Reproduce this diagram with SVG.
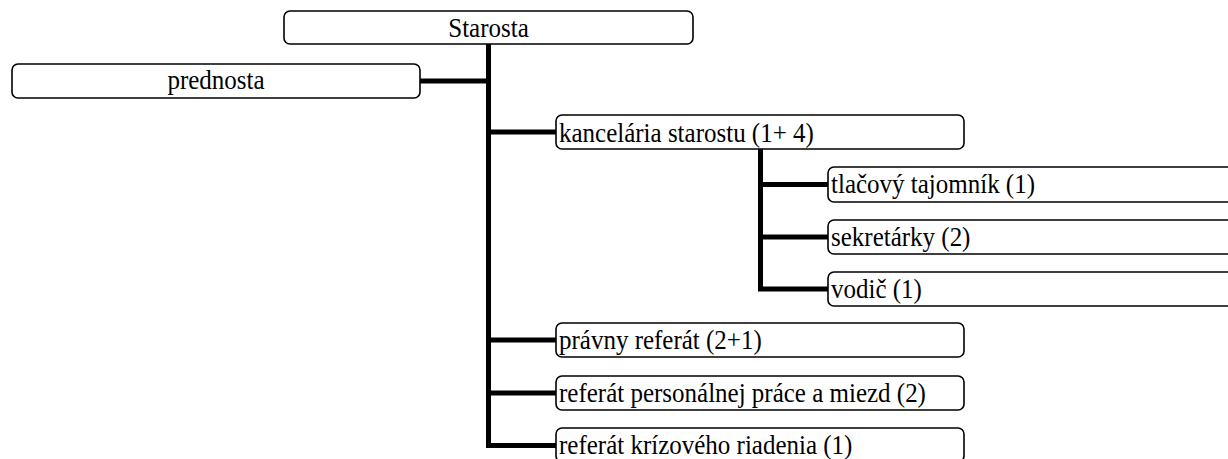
<svg xmlns="http://www.w3.org/2000/svg" width="1228" height="459" viewBox="0 0 1228 459">
<style>
.box{fill:#fff;stroke:#000;stroke-width:1.6}
.t{font-family:"Liberation Serif","Times New Roman",serif;font-size:25px;fill:#000}
.c{text-anchor:middle}
.conn{fill:none;stroke:#000;stroke-width:5;stroke-linecap:butt;stroke-linejoin:miter}
</style>
<rect width="1228" height="459" fill="#fff"/>
<g id="connectors">
<path class="conn" d="M488.5,44 V445.5 H556"/>
<path class="conn" d="M420,81 H488.5"/>
<path class="conn" d="M488.5,132 H556"/>
<path class="conn" d="M488.5,340 H556"/>
<path class="conn" d="M488.5,393 H556"/>
<path class="conn" d="M760.5,149 V289 H828"/>
<path class="conn" d="M760.5,184.5 H828"/>
<path class="conn" d="M760.5,237 H828"/>
</g>
<g id="starosta">
<rect class="box" x="284" y="11" width="409" height="33" rx="6"/>
<text class="t c" transform="translate(488.5,36.5) scale(1,1.1)">Starosta</text>
</g>
<g id="prednosta">
<rect class="box" x="12" y="64" width="408" height="34" rx="6"/>
<text class="t c" transform="translate(216,88.5) scale(1,1.1)">prednosta</text>
</g>
<g id="kancelaria">
<rect class="box" x="556" y="115" width="408" height="34" rx="6"/>
<text class="t" transform="translate(559,142) scale(1,1.1)">kancelária starostu (1+ 4)</text>
</g>
<g id="tlacovy">
<rect class="box" x="828" y="167" width="420" height="35" rx="6"/>
<text class="t" transform="translate(831,193) scale(1,1.1)">tlačový tajomník (1)</text>
</g>
<g id="sekretarky">
<rect class="box" x="828" y="220" width="420" height="34" rx="6"/>
<text class="t" transform="translate(831,246) scale(1,1.1)">sekretárky (2)</text>
</g>
<g id="vodic">
<rect class="box" x="828" y="272" width="420" height="34" rx="6"/>
<text class="t" transform="translate(831,298) scale(1,1.1)">vodič (1)</text>
</g>
<g id="pravny">
<rect class="box" x="556" y="323" width="408" height="34" rx="6"/>
<text class="t" transform="translate(559,349) scale(1,1.1)">právny referát (2+1)</text>
</g>
<g id="personalny">
<rect class="box" x="556" y="376" width="408" height="34" rx="6"/>
<text class="t" transform="translate(559,402) scale(1,1.1)">referát personálnej práce a miezd (2)</text>
</g>
<g id="krizovy">
<rect class="box" x="556" y="428" width="408" height="34" rx="6"/>
<text class="t" transform="translate(559,454) scale(1,1.1)">referát krízového riadenia (1)</text>
</g>
</svg>
